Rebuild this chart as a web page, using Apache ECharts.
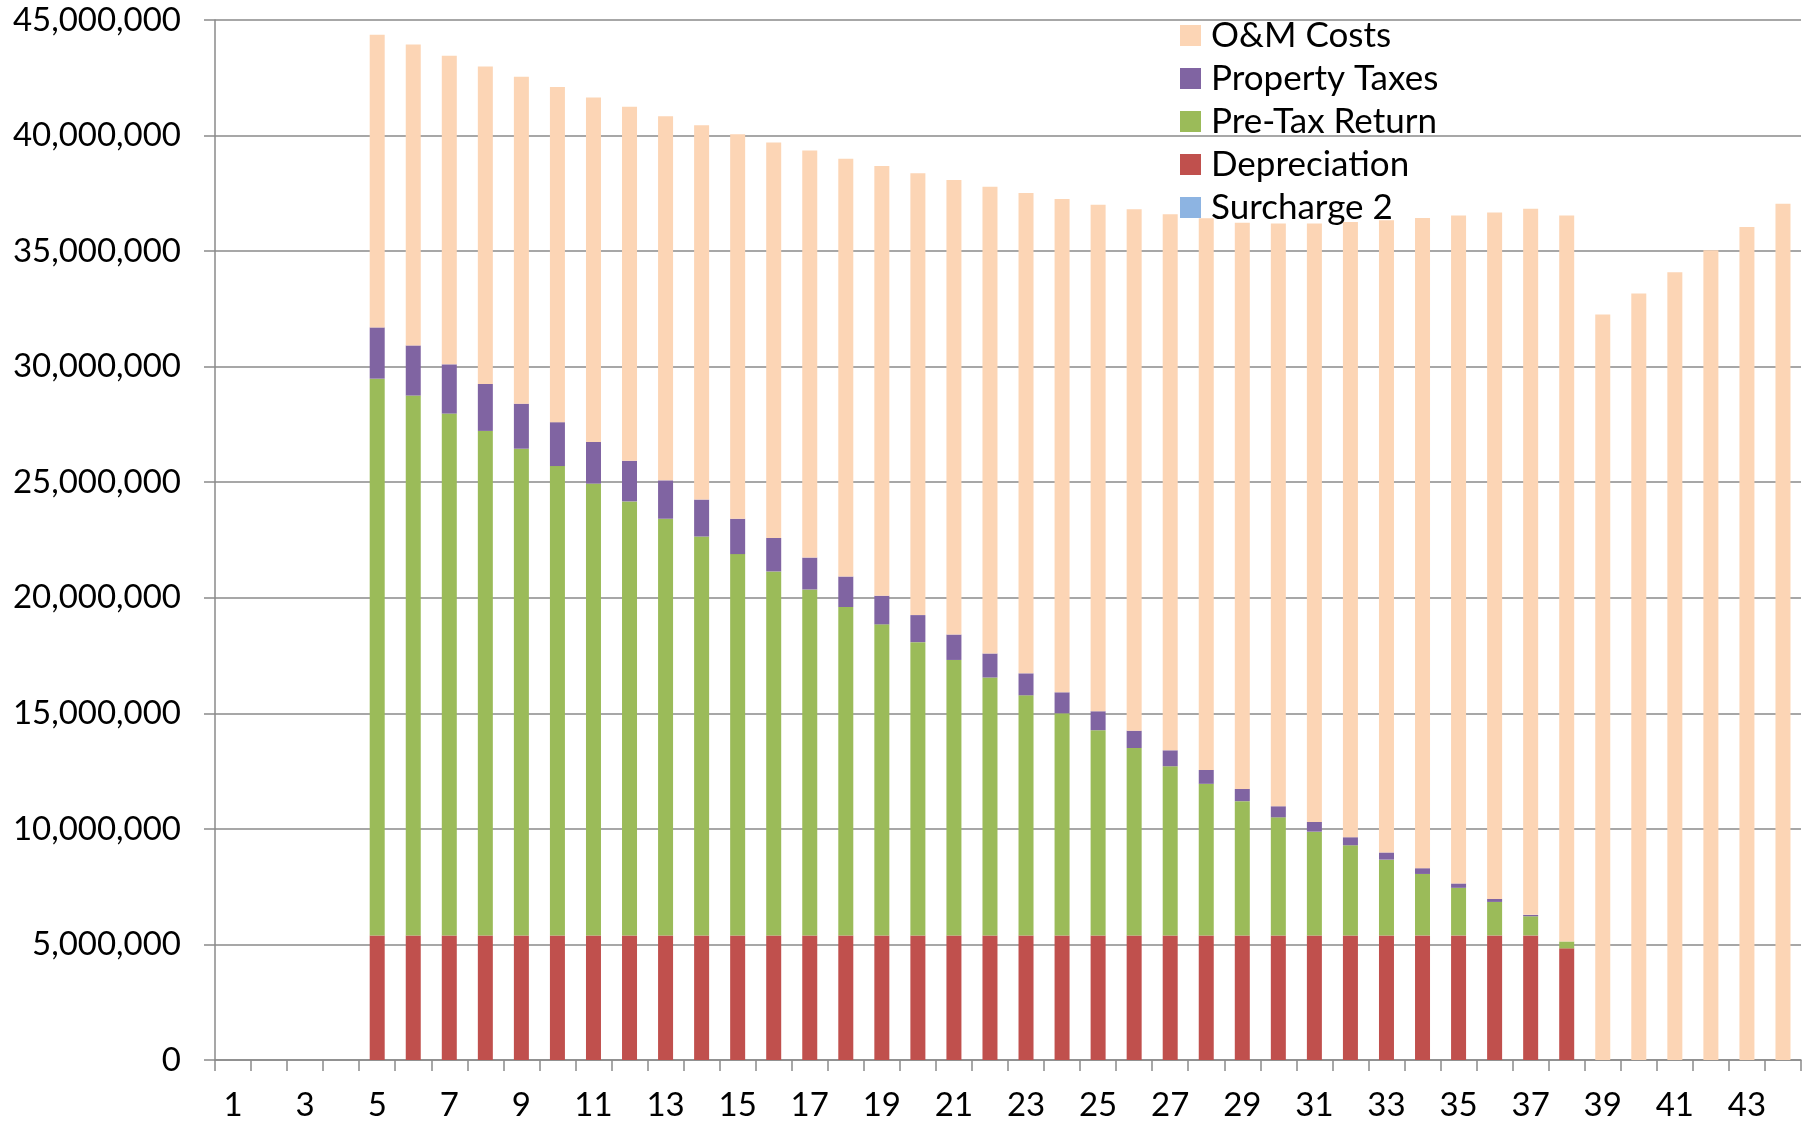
<!DOCTYPE html>
<html>
<head>
<meta charset="utf-8">
<title>Revenue Requirement by Year</title>
<script src="https://cdn.jsdelivr.net/npm/echarts@6/dist/echarts.min.js"></script>
<style>
  html, body { margin: 0; padding: 0; background: #fff; }
  #chart { width: 1816px; height: 1125px; }
</style>
</head>
<body>
<div id="chart"></div>
<script>
const years = [];
for (let y = 1; y <= 44; y++) years.push(String(y));

const yTicks = [0, 5000000, 10000000, 15000000, 20000000, 25000000, 30000000, 35000000, 40000000, 45000000];

// years 1-4 have no bars
const depreciation = [null, null, null, null,
  5390000, 5390000, 5390000, 5390000, 5390000, 5390000, 5390000, 5390000, 5390000, 5390000,
  5390000, 5390000, 5390000, 5390000, 5390000, 5390000, 5390000, 5390000, 5390000, 5390000,
  5390000, 5390000, 5390000, 5390000, 5390000, 5390000, 5390000, 5390000, 5390000, 5390000,
  5390000, 5390000, 5390000, 4830000,
  null, null, null, null, null, null];

const surcharge2 = [null, null, null, null,
  0, 0, 0, 0, 0, 0, 0, 0, 0, 0,
  0, 0, 0, 0, 0, 0, 0, 0, 0, 0,
  0, 0, 0, 0, 0, 0, 0, 0, 0, 0,
  0, 0, 0, 0,
  0, 0, 0, 0, 0, 0];

const preTaxReturn = [null, null, null, null,
  24090000, 23360000, 22580000, 21830000, 21060000, 20310000, 19550000, 18780000, 18030000, 17260000,
  16500000, 15750000, 14970000, 14210000, 13460000, 12690000, 11920000, 11160000, 10390000, 9610000,
  8880000, 8110000, 7320000, 6560000, 5810000, 5110000, 4490000, 3900000, 3280000, 2660000,
  2060000, 1450000, 830000, 300000,
  null, null, null, null, null, null];

const propertyTaxes = [null, null, null, null,
  2220000, 2170000, 2130000, 2030000, 1950000, 1900000, 1800000, 1760000, 1660000, 1600000,
  1530000, 1450000, 1380000, 1320000, 1240000, 1170000, 1100000, 1040000, 950000, 910000,
  820000, 750000, 690000, 600000, 530000, 480000, 420000, 350000, 310000, 250000,
  190000, 130000, 60000, 0,
  null, null, null, null, null, null];

const omCosts = [null, null, null, null,
  12660000, 13020000, 13350000, 13740000, 14140000, 14500000, 14910000, 15320000, 15760000, 16200000,
  16640000, 17110000, 17610000, 18080000, 18590000, 19120000, 19670000, 20200000, 20780000, 21340000,
  21920000, 22560000, 23200000, 23870000, 24500000, 25210000, 25900000, 26620000, 27350000, 28130000,
  28900000, 29700000, 30550000, 31410000,
  32260000, 33170000, 34090000, 35040000, 36040000, 37050000];

const fontFamily = 'Lato, "Open Sans", sans-serif';
const gridColor = '#8a8a8a';

const makeBar = (name, data, color) => ({
  name: name,
  type: 'bar',
  stack: 'total',
  barWidth: 15,
  data: data,
  itemStyle: { color: color },
  emphasis: { disabled: true }
});

const chart = echarts.init(document.getElementById('chart'));

const option = {
  animation: false,
  backgroundColor: '#ffffff',
  textStyle: { fontFamily: fontFamily },
  grid: { left: 215, right: 15, top: 20, bottom: 65 },
  legend: {
    orient: 'vertical',
    left: 1180,
    top: 18,
    padding: 0,
    itemWidth: 21,
    itemHeight: 21,
    itemGap: 8,
    icon: 'rect',
    data: ['O&M Costs', 'Property Taxes', 'Pre-Tax Return', 'Depreciation', 'Surcharge 2'],
    textStyle: { fontFamily: fontFamily, fontSize: 35, lineHeight: 34, color: '#000', padding: [0, 0, 0, 5] }
  },
  xAxis: {
    type: 'category',
    data: years,
    boundaryGap: true,
    axisLine: { lineStyle: { color: gridColor, width: 1.5 } },
    axisTick: { show: true, length: 11, alignWithLabel: false, interval: 0, lineStyle: { color: gridColor, width: 1.5 } },
    axisLabel: { interval: 1, margin: 29, fontSize: 33, color: '#000', fontFamily: fontFamily }
  },
  yAxis: {
    type: 'value',
    min: yTicks[0],
    max: yTicks[yTicks.length - 1],
    interval: yTicks[1] - yTicks[0],
    axisLine: { show: true, lineStyle: { color: gridColor, width: 1.5 } },
    axisTick: { show: true, length: 11, lineStyle: { color: gridColor, width: 1.5 } },
    splitLine: { show: true, lineStyle: { color: gridColor, width: 1.5 } },
    axisLabel: {
      margin: 34,
      fontSize: 33,
      color: '#000',
      fontFamily: fontFamily,
      formatter: (v) => v.toLocaleString('en-US')
    }
  },
  series: [
    makeBar('Depreciation', depreciation, '#C0504D'),
    makeBar('Surcharge 2', surcharge2, '#8DB4E2'),
    makeBar('Pre-Tax Return', preTaxReturn, '#9BBB59'),
    makeBar('Property Taxes', propertyTaxes, '#8064A2'),
    makeBar('O&M Costs', omCosts, '#FCD5B5')
  ]
};

chart.setOption(option);
window.addEventListener('resize', () => chart.resize());
</script>
</body>
</html>
